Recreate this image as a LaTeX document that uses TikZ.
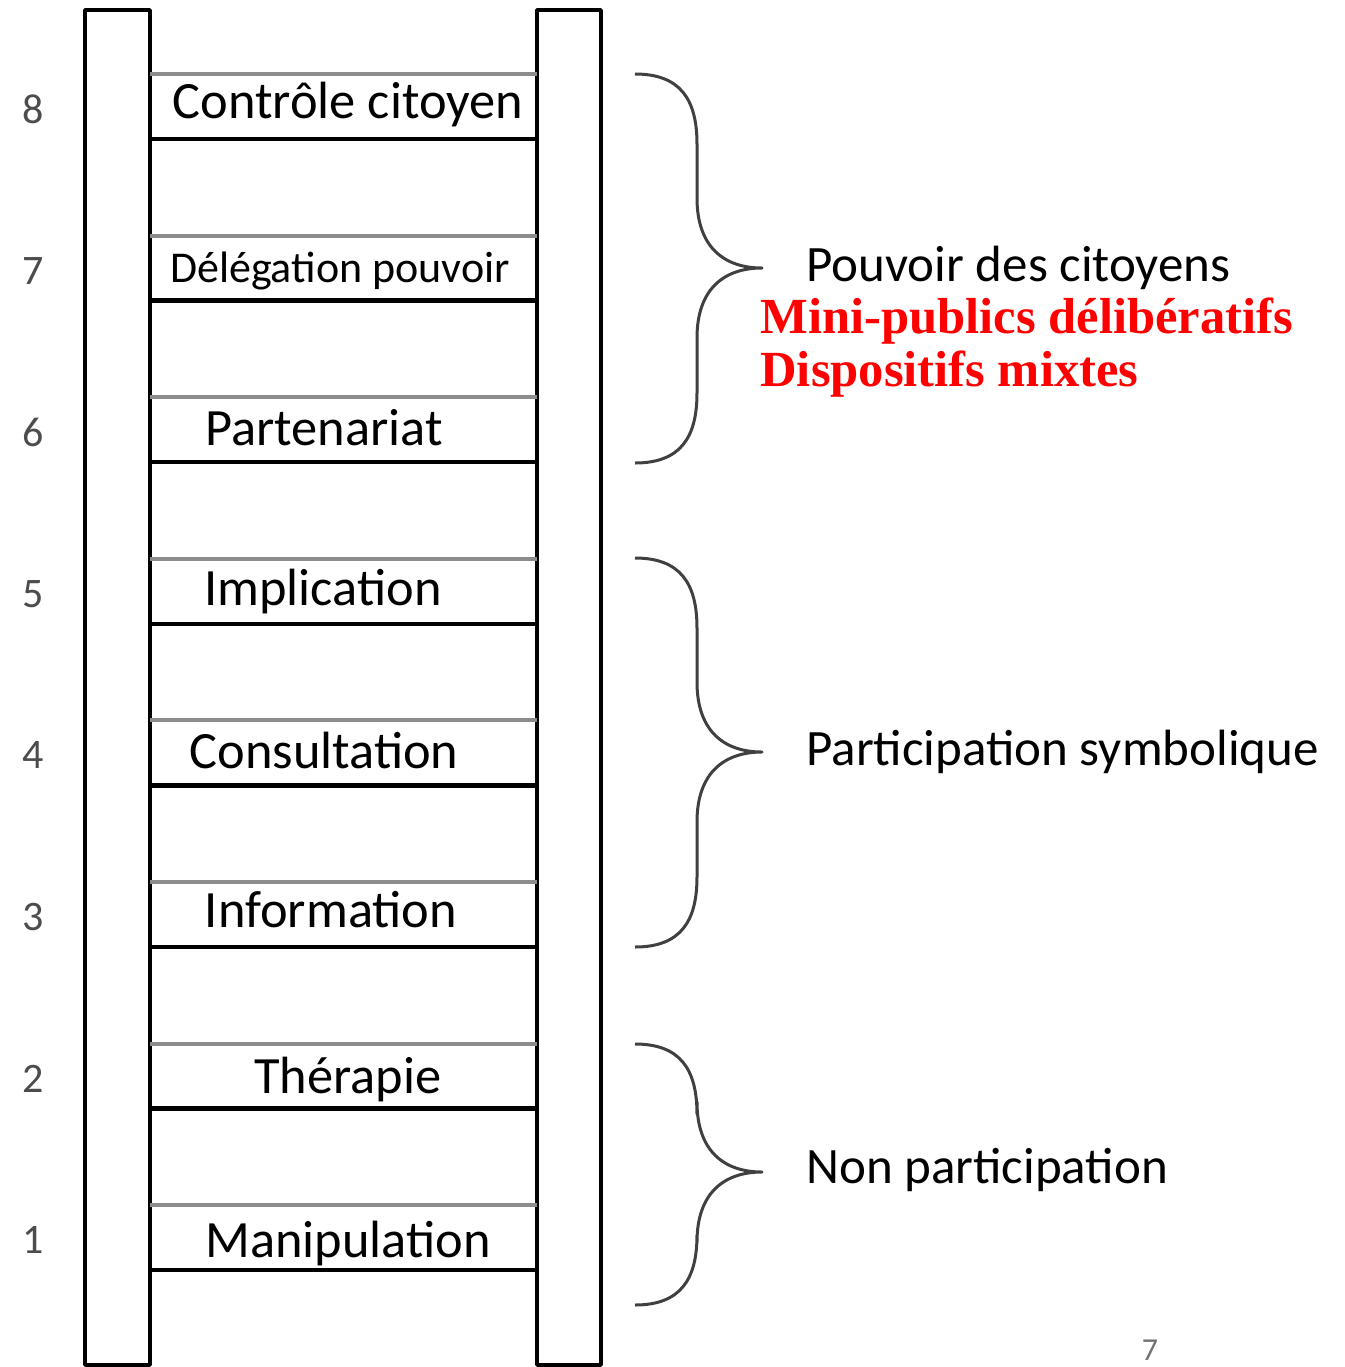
\documentclass[tikz,border=0pt]{standalone}
\usepackage{fontspec}
\setmainfont{Carlito}
\newfontfamily\redfont{Liberation Serif}

\begin{document}
\begin{tikzpicture}[x=0.5pt, y=-0.5pt, line join=round,
	rail/.style={draw=black, line width=1.75pt, fill=white},
	rungtext/.style={inner sep=0pt, anchor=base},
	rank/.style={inner sep=0pt, text=black!70, font=\fontsize{21}{24}\selectfont},
	bracket/.style={draw=black!75, line width=1.5pt},
	group/.style={inner sep=0pt, anchor=west, font=\fontsize{25.5}{28}\selectfont},
	device/.style={inner sep=0pt, anchor=west, text=red, font=\redfont\bfseries\fontsize{25.3}{28}\selectfont}]
	\useasboundingbox (0,0) rectangle (1345,1367);
	% rails
	\draw[rail] (85,10) rectangle (150,1365);
	\draw[rail] (537,10) rectangle (601,1365);
	% rungs, from the top
	\foreach \k/\lab/\xc/\yb/\sz in {8/Contrôle citoyen/348/118/26.2, 7/Délégation pouvoir/340/282/22,
			6/Partenariat/324/445/26.2, 5/Implication/323/605/26.2, 4/Consultation/324/768/26.2,
			3/Information/331/927/26.2, 2/Thérapie/348/1093/26.2, 1/Manipulation/348/1257/26.2}{
		\pgfmathsetmacro\yt{74+(8-\k)*161.6}
		\draw[black!45, line width=2pt] (150,\yt) -- (537,\yt);
		\draw[black, line width=2.2pt] (150,\yt+65) -- (537,\yt+65);
		\node[rungtext, font=\fontsize{\sz}{30}\selectfont] (rung\k) at (\xc,\yb) {\lab};
		\node[rank] (num\k) at (33,\yt+35) {\k};
	}
	% braces
	\foreach \t/\m/\b in {74/268/463, 558/752/947, 1044/1172/1305}{
		\draw[bracket] (635,\t) .. controls (680,\t) and (697,\t+25) .. (697,\t+70)
			-- (697,\m-70) .. controls (697,\m-20) and (725,\m) .. (762,\m)
			.. controls (725,\m) and (697,\m+20) .. (697,\m+70)
			-- (697,\b-70) .. controls (697,\b-25) and (680,\b) .. (635,\b);
	}
	\node[group] (power) at (806,268) {Pouvoir des citoyens};
	\node[device] (mini) at (760,321) {Mini-publics délibératifs};
	\node[device] (mixed) at (760,374) {Dispositifs mixtes};
	\node[group] (token) at (806,752) {Participation symbolique};
	\node[group] (nonpart) at (806,1170) {Non participation};
	\node[inner sep=0pt, text=black!55, font=\fontsize{16}{18}\selectfont] (page) at (1150,1350) {7};
\end{tikzpicture}
\end{document}
